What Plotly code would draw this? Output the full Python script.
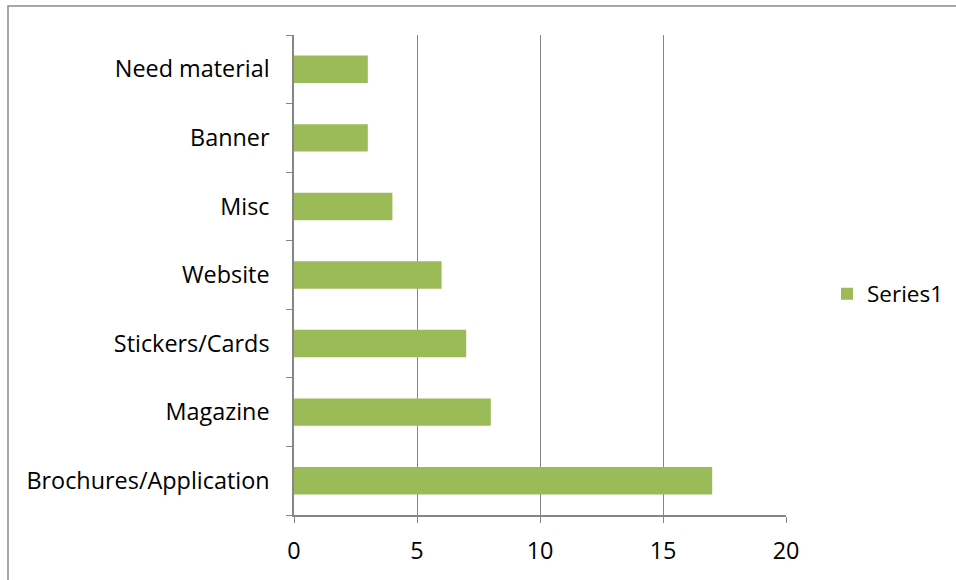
import plotly.graph_objects as go

categories = ["Brochures/Application", "Magazine", "Stickers/Cards", "Website",
              "Misc", "Banner", "Need material"]
values = [17, 8, 7, 6, 4, 3, 3]
x_ticks = [0, 5, 10, 15, 20]

W, H = 956, 580
L, R, T, B = 294, 786, 35, 515  # plot area edges in pixels
axis_grey = "#868686"
font_family = "Open Sans, Lato, sans-serif"

fig = go.Figure()
fig.add_trace(go.Bar(
    x=values, y=categories, orientation="h", name="Series1",
    marker=dict(color="#9BBB59", line=dict(width=0)),
    showlegend=True,
))


def px_x(p):
    return (p - L) / (R - L)


def px_y(p):
    return (B - p) / (B - T)


# outer chart border
fig.add_shape(type="rect", xref="paper", yref="paper",
              x0=px_x(8), x1=px_x(965), y0=px_y(590), y1=px_y(6),
              line=dict(color="#8a8a8a", width=1.5), layer="below")

fig.update_layout(
    width=W, height=H,
    margin=dict(l=L, r=W - R, t=T, b=H - B, pad=0, autoexpand=False),
    paper_bgcolor="white", plot_bgcolor="white",
    bargap=0.6,
    font=dict(family=font_family, size=23.4, color="#000000"),
    legend=dict(x=px_x(827), y=px_y(294), xanchor="left", yanchor="middle",
                font=dict(size=22.5), itemwidth=30, bgcolor="rgba(0,0,0,0)"),
    xaxis=dict(range=[0, 20], tickvals=x_ticks, showgrid=True,
               gridcolor=axis_grey, gridwidth=1.3, zeroline=False,
               showline=True, linecolor=axis_grey, linewidth=1.5,
               ticks="outside", ticklen=6, tickcolor=axis_grey,
               ticklabelstandoff=8, fixedrange=True),
    yaxis=dict(categoryorder="array", categoryarray=categories,
               showline=True, linecolor=axis_grey, linewidth=1.5,
               ticks="outside", ticklen=6, tickcolor=axis_grey,
               tickson="boundaries", showgrid=False,
               ticklabelstandoff=18, fixedrange=True),
)

fig.write_html("out.html")
